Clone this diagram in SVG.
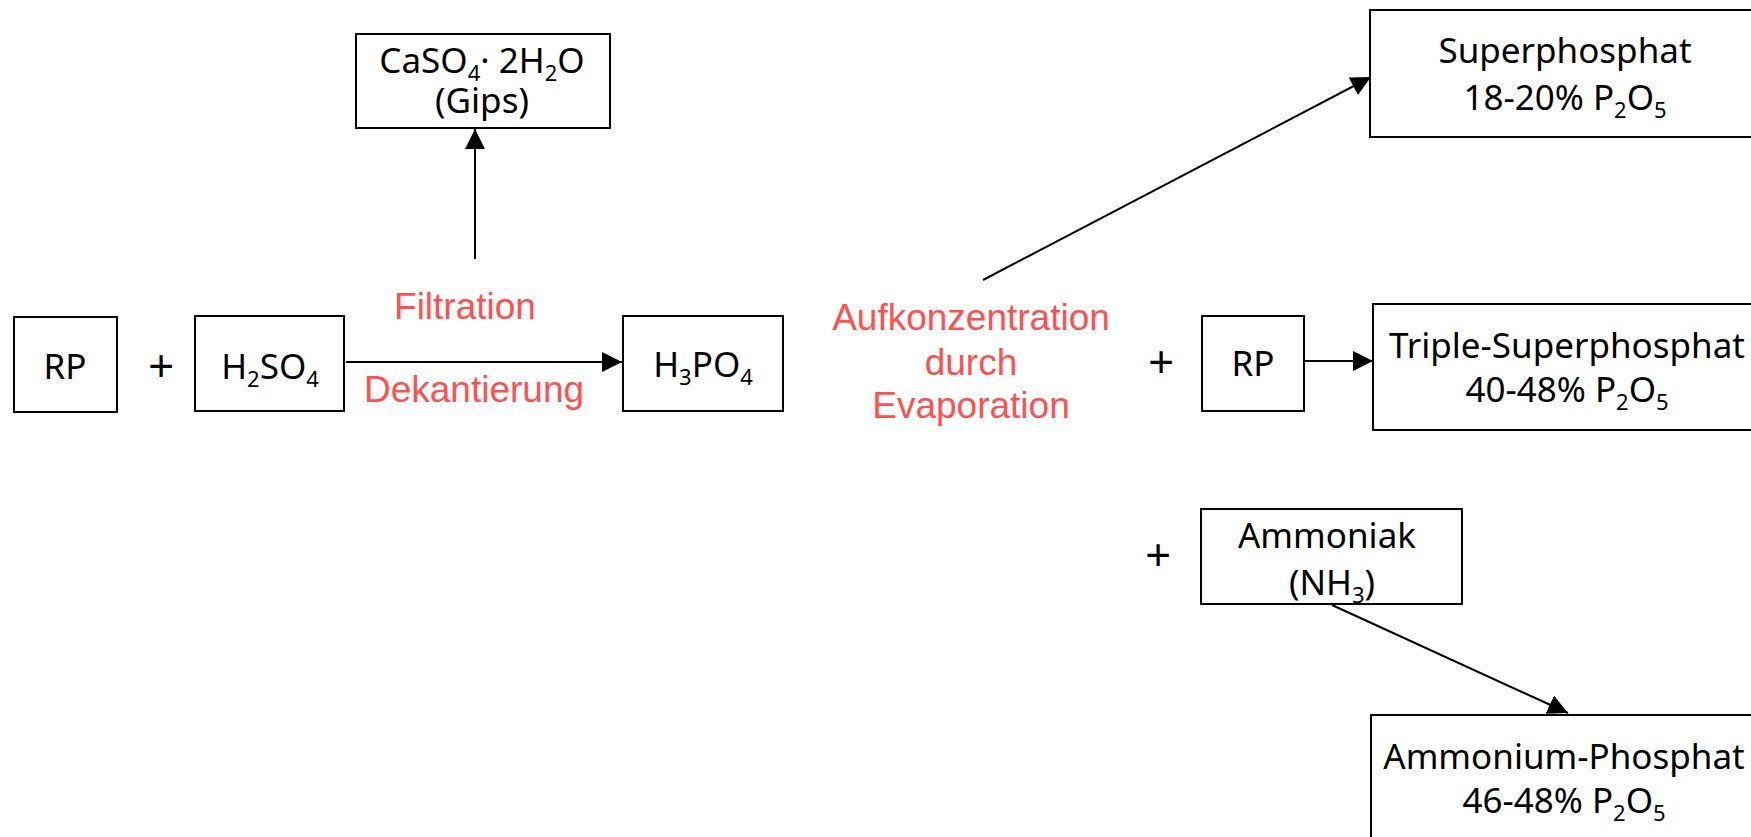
<svg xmlns="http://www.w3.org/2000/svg" width="1751" height="837" viewBox="0 0 1751 837">
<style>
  .box { fill: #ffffff; stroke: #000000; stroke-width: 2; }
  .t { font-family: "Noto Sans", "Liberation Sans", sans-serif; font-size: 35px; fill: #000000; text-anchor: middle; }
  .s { font-size: 22px; }
  .red { font-family: "Liberation Sans", Arial, sans-serif; font-size: 37px; fill: #ff5050; text-anchor: middle; }
  .plus { font-family: "Liberation Sans", Arial, sans-serif; font-size: 44px; fill: #000000; text-anchor: middle; }
  .con { stroke: #000000; stroke-width: 2; fill: none; marker-end: url(#arrow); }
</style>
<defs>
  <marker id="arrow" markerUnits="userSpaceOnUse" markerWidth="20" markerHeight="20" refX="20" refY="10" orient="auto">
    <path d="M0,0 L20,10 L0,20 Z" fill="#000000"/>
  </marker>
</defs>
<rect width="1751" height="837" fill="#ffffff"/>

<g id="connectors">
  <line class="con" x1="346" y1="362" x2="622" y2="362"/>
  <line class="con" x1="475" y1="259" x2="475" y2="129"/>
  <line class="con" x1="983" y1="280" x2="1371" y2="77"/>
  <line class="con" x1="1304" y1="361" x2="1373" y2="361"/>
  <line class="con" x1="1332" y1="605" x2="1568" y2="713"/>
</g>

<g id="rp1">
  <rect class="box" x="14" y="317" width="103" height="95"/>
  <text class="t" x="65" y="379">RP</text>
</g>
<g id="plus1"><text class="plus" x="161" y="381">+</text></g>
<g id="h2so4">
  <rect class="box" x="195" y="316" width="149" height="95"/>
  <text class="t" x="270" y="379">H<tspan class="s" dy="8">2</tspan><tspan dy="-8">SO</tspan><tspan class="s" dy="8">4</tspan></text>
</g>
<g id="gips">
  <rect class="box" x="356" y="34" width="254" height="94"/>
  <text class="t" x="482" y="73">CaSO<tspan class="s" dy="8">4</tspan><tspan dy="-8">· 2H</tspan><tspan class="s" dy="8">2</tspan><tspan dy="-8">O</tspan></text>
  <text class="t" x="482" y="113">(Gips)</text>
</g>
<g id="labels-filtration">
  <text class="red" x="465" y="319">Filtration</text>
  <text class="red" x="474" y="402">Dekantierung</text>
</g>
<g id="h3po4">
  <rect class="box" x="623" y="316" width="160" height="95"/>
  <text class="t" x="703" y="377">H<tspan class="s" dy="8">3</tspan><tspan dy="-8">PO</tspan><tspan class="s" dy="8">4</tspan></text>
</g>
<g id="aufkonzentration">
  <text class="red" x="971" y="330">Aufkonzentration</text>
  <text class="red" x="971" y="375">durch</text>
  <text class="red" x="971" y="418">Evaporation</text>
</g>
<g id="superphosphat">
  <rect class="box" x="1370" y="10" width="392" height="127"/>
  <text class="t" x="1565" y="63">Superphosphat</text>
  <text class="t" x="1565" y="110">18-20% P<tspan class="s" dy="8">2</tspan><tspan dy="-8">O</tspan><tspan class="s" dy="8">5</tspan></text>
</g>
<g id="plus2"><text class="plus" x="1161" y="377">+</text></g>
<g id="rp2">
  <rect class="box" x="1202" y="316" width="102" height="95"/>
  <text class="t" x="1253" y="376">RP</text>
</g>
<g id="triple">
  <rect class="box" x="1373" y="304" width="392" height="126"/>
  <text class="t" x="1567" y="358">Triple-Superphosphat</text>
  <text class="t" x="1567" y="402">40-48% P<tspan class="s" dy="8">2</tspan><tspan dy="-8">O</tspan><tspan class="s" dy="8">5</tspan></text>
</g>
<g id="plus3"><text class="plus" x="1158" y="570">+</text></g>
<g id="ammoniak">
  <rect class="box" x="1201" y="509" width="261" height="95"/>
  <text class="t" x="1327" y="548">Ammoniak</text>
  <text class="t" x="1332" y="595">(NH<tspan class="s" dy="8">3</tspan><tspan dy="-8">)</tspan></text>
</g>
<g id="ammonium">
  <rect class="box" x="1371" y="715" width="392" height="140"/>
  <text class="t" x="1564" y="769">Ammonium-Phosphat</text>
  <text class="t" x="1564" y="813">46-48% P<tspan class="s" dy="8">2</tspan><tspan dy="-8">O</tspan><tspan class="s" dy="8">5</tspan></text>
</g>
</svg>
